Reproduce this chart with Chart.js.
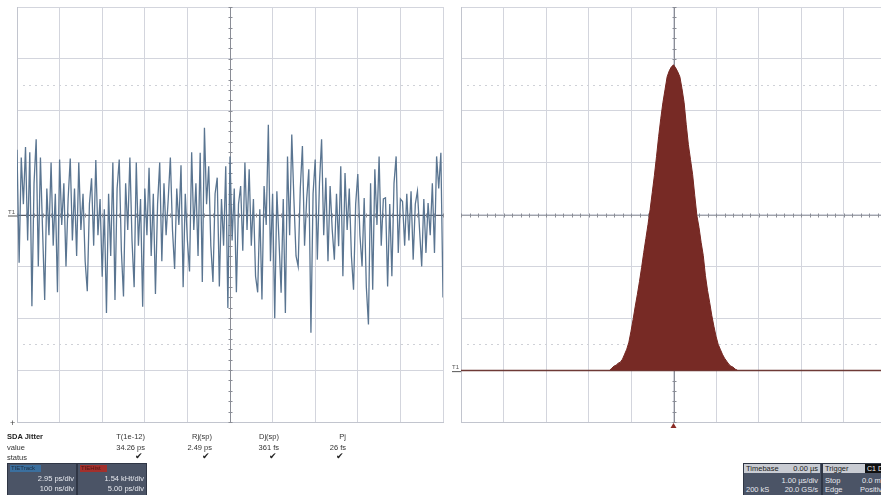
<!DOCTYPE html>
<html>
<head>
<meta charset="utf-8">
<script src="https://cdn.jsdelivr.net/npm/chart.js@4"></script>
<style>
html,body{margin:0;padding:0;background:#fff;width:881px;height:495px;overflow:hidden;font-family:"Liberation Sans",Arial,sans-serif;}
#wrap{position:relative;width:881px;height:495px;overflow:hidden;}
.cv{position:absolute;top:0;}
.t{position:absolute;font-size:7.5px;color:#333;white-space:nowrap;line-height:9px;}
.r{text-align:right;}
.box{position:absolute;background:#4b5466;border:1px solid #2f3645;}
.bt{position:absolute;font-size:7.5px;color:#e6e8ee;white-space:nowrap;line-height:9px;}
.hdr{position:absolute;background:#c9ccd3;}
</style>
</head>
<body>
<div id="wrap">
  <div class="cv" style="left:0;width:450px;height:430px;"><canvas id="left" width="450" height="430"></canvas></div>
  <div class="cv" style="left:446px;width:450px;height:430px;"><canvas id="right" width="450" height="430"></canvas></div>
</div>
<script>
// ---- DATA ----
// TIE track trace values (divisions)
const traceValues = [
 1.25,-0.93,1.1,0.2,1.3,-0.5,1.2,-1.77,0.6,1.45,
 -1.0,1.1,-0.3,-1.65,0.5,-0.4,1.0,-0.6,0.4,-1.5,
 1.06,-0.2,0.6,-1.0,0.3,1.08,-0.5,0.5,-0.8,1.0,
 -0.3,0.4,-0.9,-1.48,0.2,0.7,-0.6,1.05,-0.4,0.3,
 -1.2,0.1,-1.9,0.4,-0.8,1.0,-1.65,0.5,1.06,-0.7,
 -1.58,0.6,-0.3,1.1,-0.5,-1.4,1.0,-0.6,0.3,-1.78,
 0.5,-0.4,0.9,-0.8,0.4,-1.53,0.2,1.0,-0.9,0.6,
 -0.4,0.3,1.1,-0.3,-1.05,0.5,-0.2,0.95,-1.4,0.4,
 -0.5,-1.1,1.2,-0.3,0.6,-0.8,1.19,-1.3,1.67,0.2,
 0.93,-0.6,-1.3,0.4,0.71,-1.39,0.3,-0.6,0.93,-1.8,
 1.12,-0.5,0.5,-1.5,0.2,0.55,-0.7,1.0,-0.3,0.87,
 -0.6,0.3,-1.19,-1.5,0.1,-1.64,0.55,-0.2,1.73,-0.9,
 0.4,-2.0,0.45,-0.5,-1.51,0.3,-1.9,1.12,-0.4,1.54,
 0.3,-0.8,-1.0,0.5,1.32,-0.6,0.3,0.87,-2.28,0.4,
 1.06,-0.87,0.6,1.45,-0.4,0.71,-0.9,0.55,-0.3,-0.87,
 0.4,-0.61,0.93,-1.19,0.8,-0.3,0.5,-0.8,-1.45,0.2,
 0.78,-0.4,-1.0,0.32,-1.39,-2.12,0.6,-1.45,0.87,-0.2,
 1.12,-0.6,0.3,0.32,-1.39,0.2,-1.19,0.6,1.12,-0.74,
 0.3,0.25,-0.6,0.4,-0.5,0.45,-0.87,0.2,0.45,-0.3,
 -1.0,0.3,-0.74,0.22,-0.4,0.6,-0.74,1.12,0.5,1.19,
 -1.6
];
// TIE histogram counts (hits per bin)
const histCounts = [
 2,4,5,7,8,11,16,21,28,39,
 51,64,76,89,103,118,132,146,161,178,
 195,214,234,252,268,281,294,300,304,306,
 303,299,294,282,268,246,226,211,196,175,
 155,143,128,115,95,80,68,55,44,34,
 26,21,16,12,9,6,4,3,1
];
const histStart = -1.45;      // first bin centre (div)
const histBinWidth = 0.05;    // bin width (div)
const hitsPerDiv = 52;

// Measurement table
const measureNames  = ["T(1e-12)", "Rj(sp)", "Dj(sp)", "Pj"];
const measureValues = ["34.26 ps", "2.49 ps", "361 fs", "26 fs"];
const measureRight  = [145, 212, 279, 346];

// ---- CHARTS ----
const GRID = '#d3d5dd';
const BORDER = '#c2c5ce';

function crossPlugin(opts){
  return {
    id:'cross'+opts.id,
    beforeDatasetsDraw(chart){
      const {ctx, chartArea:a, scales:{x,y}} = chart;
      ctx.save();
      ctx.strokeStyle = '#cfd1d7';
      ctx.lineWidth = 1;
      ctx.setLineDash([2,4]);
      opts.dotted.forEach(v=>{
        const py = Math.round(y.getPixelForValue(v))+0.5;
        ctx.beginPath(); ctx.moveTo(a.left+6, py); ctx.lineTo(a.right-4, py); ctx.stroke();
      });
      ctx.setLineDash([]);
      const cx = Math.round(x.getPixelForValue(opts.cx))+0.5;
      ctx.strokeStyle = '#8a8d96';
      ctx.beginPath(); ctx.moveTo(cx, a.top); ctx.lineTo(cx, a.bottom); ctx.stroke();
      for(let v=y.min; v<=y.max+1e-6; v+=opts.yMinor){
        const py = Math.round(y.getPixelForValue(v))+0.5;
        ctx.beginPath(); ctx.moveTo(cx-2, py); ctx.lineTo(cx+2, py); ctx.stroke();
      }
      const cy = Math.round(y.getPixelForValue(opts.cy))+0.5;
      ctx.strokeStyle = opts.cyColor;
      ctx.beginPath(); ctx.moveTo(a.left, cy); ctx.lineTo(a.right, cy); ctx.stroke();
      ctx.strokeStyle = '#8a8d96';
      for(let v=x.min; v<=x.max+1e-6; v+=opts.xMinor){
        const px = Math.round(x.getPixelForValue(v))+0.5;
        ctx.beginPath(); ctx.moveTo(px, cy-2); ctx.lineTo(px, cy+2); ctx.stroke();
      }
      if(opts.ref!==undefined){
        const ry = Math.round(y.getPixelForValue(opts.ref))+0.5;
        ctx.strokeStyle = opts.refColor;
        ctx.lineWidth = 1.5;
        ctx.beginPath(); ctx.moveTo(a.left, ry); ctx.lineTo(a.right, ry); ctx.stroke();
      }
      ctx.restore();
    },
    afterDraw(chart){
      const {ctx, chartArea:a, scales:{y}} = chart;
      ctx.save();
      ctx.fillStyle = '#555';
      ctx.font = '6px "Liberation Sans", Arial';
      const ly = y.getPixelForValue(opts.labelAt);
      ctx.fillText('T1', a.left-9, ly-1);
      ctx.strokeStyle = '#555';
      ctx.beginPath(); ctx.moveTo(a.left-9, ly+1.5); ctx.lineTo(a.left, ly+1.5); ctx.stroke();
      ctx.restore();
    }
  };
}

function baseScales(xmin,xmax,xstep,ymin,ymax,ystep){
  return {
    x:{type:'linear',min:xmin,max:xmax,
       ticks:{display:false,stepSize:xstep},
       grid:{color:GRID,drawTicks:false,lineWidth:1},
       border:{display:true,color:BORDER}},
    y:{type:'linear',min:ymin,max:ymax,
       ticks:{display:false,stepSize:ystep},
       grid:{color:GRID,drawTicks:false,lineWidth:1},
       border:{display:true,color:BORDER}}
  };
}

const lastIdx = traceValues.length-1;
new Chart(document.getElementById('left'),{
  type:'line',
  data:{datasets:[{
    data: traceValues.map((v,i)=>({x:i,y:v})),
    borderColor:'#5a7591',
    borderWidth:1.3,
    pointRadius:0,
    tension:0,
    fill:false
  }]},
  options:{
    responsive:false, animation:false, parsing:false,
    layout:{padding:{left:17,top:7,right:7,bottom:8}},
    plugins:{legend:{display:false},tooltip:{enabled:false}},
    scales: baseScales(0,lastIdx,lastIdx/10,-4,4,1)
  },
  plugins:[crossPlugin({id:'L',dotted:[2.5,-2.5],cx:lastIdx/2,cy:0,yMinor:0.2,xMinor:lastIdx/50,
    cyColor:'#555a63',labelAt:0})]
});

const histPoints = [{x:histStart-histBinWidth, y:0}]
  .concat(histCounts.map((c,i)=>({x:histStart+i*histBinWidth, y:c})))
  .concat([{x:histStart+histCounts.length*histBinWidth, y:0}]);

new Chart(document.getElementById('right'),{
  type:'line',
  data:{datasets:[{
    data: histPoints,
    borderColor:'#742621',
    backgroundColor:'#772a25',
    borderWidth:1,
    pointRadius:0,
    tension:0,
    fill:{value:0}
  }]},
  options:{
    responsive:false, animation:false, parsing:false,
    layout:{padding:{left:15,top:7,right:10,bottom:8}},
    plugins:{legend:{display:false},tooltip:{enabled:false}},
    scales: baseScales(-5,5,1,-hitsPerDiv,7*hitsPerDiv,hitsPerDiv)
  },
  plugins:[crossPlugin({id:'R',dotted:[3*hitsPerDiv+2.5*hitsPerDiv,3*hitsPerDiv-2.5*hitsPerDiv],cx:0,cy:3*hitsPerDiv,
    yMinor:0.2*hitsPerDiv,xMinor:0.2,cyColor:'#a0a3ab',ref:0,refColor:'#6e3a36',labelAt:0}),
    {id:'trig',afterDraw(chart){
      const {ctx,chartArea:a,scales:{x}}=chart;
      const px=x.getPixelForValue(0);
      ctx.save();ctx.fillStyle='#8a2a24';
      ctx.beginPath();ctx.moveTo(px,a.bottom+1);ctx.lineTo(px-3,a.bottom+6);ctx.lineTo(px+3,a.bottom+6);ctx.closePath();ctx.fill();
      ctx.restore();
    }}]
});

// ---- TEXT / PANELS ----
const wrap = document.getElementById('wrap');
function add(html){ wrap.insertAdjacentHTML('beforeend', html); }
add('<div class="t" style="left:10px;top:419px;font-size:9px;color:#444">+</div>');
add('<div class="t" style="left:7px;top:432px;font-weight:bold;color:#222">SDA Jitter</div>');
add('<div class="t" style="left:7px;top:443px">value</div>');
add('<div class="t" style="left:7px;top:453px">status</div>');
measureNames.forEach((n,i)=>{
  const r = 881 - measureRight[i];
  add('<div class="t r" style="right:'+r+'px;top:432px">'+n+'</div>');
  add('<div class="t r" style="right:'+r+'px;top:443px">'+measureValues[i]+'</div>');
  add('<div class="t r" style="right:'+(r+2)+'px;top:452px;font-size:9px;color:#222">✔</div>');
});
add('<div class="box" style="left:7px;top:463px;width:68px;height:34px"></div>');
add('<div style="position:absolute;left:10px;top:465px;width:30px;height:7px;background:#3b6f9e;font-size:6px;line-height:7px;color:#1d2d40;padding-left:1px;white-space:nowrap;overflow:hidden">TIETrack</div>');
add('<div class="bt r" style="right:'+(881-74)+'px;top:474px">2.95 ps/div</div>');
add('<div class="bt r" style="right:'+(881-74)+'px;top:484px">100 ns/div</div>');
add('<div class="box" style="left:77px;top:463px;width:68px;height:34px"></div>');
add('<div style="position:absolute;left:80px;top:465px;width:26px;height:7px;background:#a3302c;font-size:6px;line-height:7px;color:#4a1412;padding-left:1px;white-space:nowrap;overflow:hidden">TIEHist</div>');
add('<div class="bt r" style="right:'+(881-144)+'px;top:474px">1.54 kHt/div</div>');
add('<div class="bt r" style="right:'+(881-144)+'px;top:484px">5.00 ps/div</div>');
add('<div class="box" style="left:743px;top:463px;width:77px;height:34px"></div>');
add('<div class="hdr" style="left:744px;top:464px;width:76px;height:9px"></div>');
add('<div class="t" style="left:746px;top:464px;color:#222">Timebase</div>');
add('<div class="t r" style="right:'+(881-818)+'px;top:464px;color:#222">0.00 µs</div>');
add('<div class="bt r" style="right:'+(881-818)+'px;top:476px">1.00 µs/div</div>');
add('<div class="bt" style="left:746px;top:485px">200 kS</div>');
add('<div class="bt r" style="right:'+(881-818)+'px;top:485px">20.0 GS/s</div>');
add('<div class="box" style="left:822px;top:463px;width:70px;height:34px"></div>');
add('<div class="hdr" style="left:823px;top:464px;width:70px;height:9px"></div>');
add('<div class="t" style="left:825px;top:464px;color:#222">Trigger</div>');
add('<div style="position:absolute;left:865px;top:464px;width:24px;height:9px;background:#111;color:#eee;font-size:7px;line-height:9px;padding-left:2px;white-space:nowrap;overflow:hidden">C1 DC</div>');
add('<div class="bt" style="left:825px;top:476px">Stop</div>');
add('<div class="bt" style="left:862px;top:476px">0.0 mV</div>');
add('<div class="bt" style="left:825px;top:485px">Edge</div>');
add('<div class="bt" style="left:860px;top:485px">Positive</div>');
</script>
</body>
</html>
